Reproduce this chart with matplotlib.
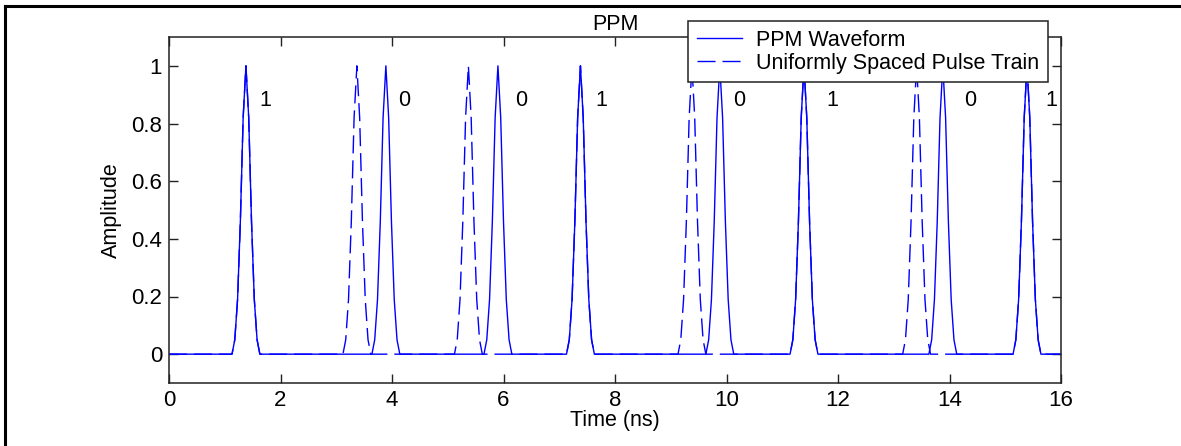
import matplotlib
matplotlib.use("Agg")
import matplotlib.pyplot as plt
from matplotlib.lines import Line2D
import numpy as np

plt.rcParams['font.family'] = ['Liberation Sans', 'DejaVu Sans']

# ---- data ----
bits = [1, 0, 0, 1, 0, 1, 0, 1]
uniform_centers = [1.38, 3.37, 5.37, 7.38, 9.38, 11.39, 13.41, 15.39]
ppm_centers = [1.38, 3.89, 5.90, 7.38, 9.88, 11.39, 13.88, 15.39]
pulse_offsets = [-0.25, -0.20, -0.15, -0.10, -0.05, 0.0, 0.05, 0.10, 0.15, 0.20, 0.25]
pulse_amps = [0.0, 0.05, 0.19, 0.46, 0.82, 1.0, 0.82, 0.46, 0.19, 0.05, 0.0]
label_x = [1.72, 4.22, 6.31, 7.75, 10.22, 11.89, 14.37, 15.82]
label_y = 0.86
t_start, t_end = 0.0, 16.0
xticks = [0, 2, 4, 6, 8, 10, 12, 14, 16]
yticks = [0, 0.2, 0.4, 0.6, 0.8, 1.0]
yticklabels = ['0', '0.2', '0.4', '0.6', '0.8', '1']


def build(centers):
    t = [t_start]
    y = [0.0]
    for c in centers:
        for o, a in zip(pulse_offsets, pulse_amps):
            t.append(c + o)
            y.append(a)
    t.append(t_end)
    y.append(0.0)
    return t, y


FS = 15.5

fig = plt.figure(figsize=(11.81, 4.46), dpi=100)
fig.patch.set_facecolor('white')
ax = fig.add_axes([169 / 1181, 1 - 383 / 446, (1061 - 169) / 1181, (383 - 37) / 446])

tp, yp = build(ppm_centers)
tu, yu = build(uniform_centers)
ax.plot(tp, yp, color='#0000ff', lw=1.0, label='PPM Waveform')
ax.plot(tu, yu, color='#0000ff', lw=1.0, linestyle=(0, (13, 5)),
        label='Uniformly Spaced Pulse Train')

for xb, b in zip(label_x, bits):
    ax.text(xb, label_y, str(b), ha='center', va='baseline', fontsize=FS)

ax.set_xlim(0, 16)
ax.set_ylim(-0.1, 1.1)
ax.set_xticks(xticks)
ax.set_yticks(yticks)
ax.set_yticklabels(yticklabels)
ax.tick_params(direction='in', length=6.5, width=1, top=True, right=True,
               labelsize=16, pad=5, color='#222222')
for s in ax.spines.values():
    s.set_linewidth(1.1)
    s.set_color('#222222')

ax.set_title('PPM', fontsize=FS, pad=5)
ax.set_xlabel('Time (ns)', fontsize=FS, labelpad=-1)
ax.set_ylabel('Amplitude', fontsize=FS, labelpad=7)

leg = ax.legend(loc='upper right', bbox_to_anchor=(1048 / 1181, 1 - 21 / 446),
                bbox_transform=fig.transFigure, fontsize=FS, frameon=True,
                fancybox=False, framealpha=1, edgecolor='#222222',
                handlelength=2.1, handletextpad=0.65, borderpad=0.4,
                labelspacing=0.1, borderaxespad=0)
leg.get_frame().set_linewidth(1.1)
leg.set_zorder(10)

# figure frame (top and left edges)
fig.add_artist(Line2D([5 / 1181, 1.0], [1 - 6 / 446, 1 - 6 / 446],
                      transform=fig.transFigure, color='black', lw=2.2))
fig.add_artist(Line2D([5 / 1181, 5 / 1181], [0.0, 1 - 6 / 446],
                      transform=fig.transFigure, color='black', lw=2.2))

fig.savefig('out.png', dpi=100)
